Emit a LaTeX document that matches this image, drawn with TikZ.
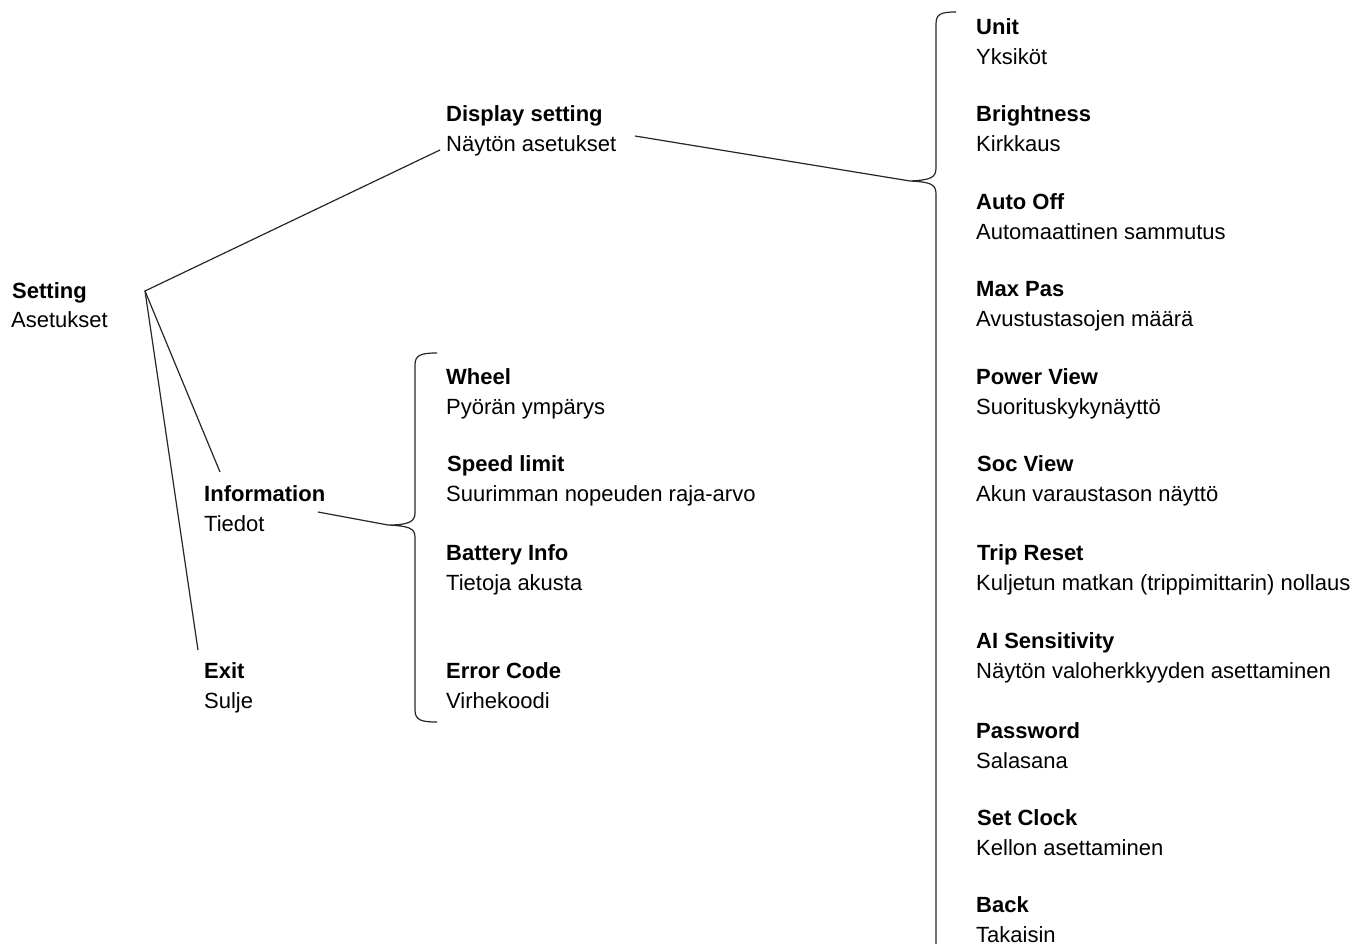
\documentclass[tikz,border=0pt]{standalone}
\usepackage{fontspec}
\setmainfont{Liberation Sans}
\begin{document}
\begin{tikzpicture}[x=1pt,y=-1pt,
  hd/.style={anchor=base west,inner sep=0pt,font=\fontsize{22}{26}\selectfont\bfseries},
  sb/.style={anchor=base west,inner sep=0pt,font=\fontsize{22}{26}\selectfont},
  conn/.style={draw=black!85,line width=1.2pt},
  brace/.style={draw=black!85,line width=1.2pt}]
\useasboundingbox (0,0) rectangle (1351,944);
% left column
\node[hd] (setting) at (12,298) {Setting};
\node[sb] (settingfi) at (11,327) {Asetukset};
\node[hd] (display) at (446,122) {Display setting};
\node[sb] (displayfi) at (446,152) {Näytön asetukset};
\node[hd] (info) at (204,501) {Information};
\node[sb] (infofi) at (204,531) {Tiedot};
\node[hd] (exit) at (204,678) {Exit};
\node[sb] (exitfi) at (204,708) {Sulje};
% information submenu
\node[hd] (wheel) at (446,384) {Wheel};
\node[sb] (wheelfi) at (446,414) {Pyörän ympärys};
\node[hd] (speed) at (447,471) {Speed limit};
\node[sb] (speedfi) at (446,501) {Suurimman nopeuden raja-arvo};
\node[hd] (battery) at (446,560) {Battery Info};
\node[sb] (batteryfi) at (446,590) {Tietoja akusta};
\node[hd] (error) at (446,678) {Error Code};
\node[sb] (errorfi) at (446,708) {Virhekoodi};
% display submenu
\node[hd] (unit) at (976,35) {Unit};
\node[sb] (unitfi) at (976,65) {Yksiköt};
\node[hd] (bright) at (976,122) {Brightness};
\node[sb] (brightfi) at (976,152) {Kirkkaus};
\node[hd] (autooff) at (976,209) {Auto Off};
\node[sb] (autooffi) at (976,239) {Automaattinen sammutus};
\node[hd] (maxpas) at (976,296) {Max Pas};
\node[sb] (maxpasfi) at (976,326) {Avustustasojen määrä};
\node[hd] (power) at (976,384) {Power View};
\node[sb] (powerfi) at (976,414) {Suorituskykynäyttö};
\node[hd] (soc) at (977,471) {Soc View};
\node[sb] (socfi) at (976,501) {Akun varaustason näyttö};
\node[hd] (trip) at (977,560) {Trip Reset};
\node[sb] (tripfi) at (976,590) {Kuljetun matkan (trippimittarin) nollaus};
\node[hd] (ai) at (976,648) {AI Sensitivity};
\node[sb] (aifi) at (976,678) {Näytön valoherkkyyden asettaminen};
\node[hd] (pw) at (976,738) {Password};
\node[sb] (pwfi) at (976,768) {Salasana};
\node[hd] (clock) at (977,825) {Set Clock};
\node[sb] (clockfi) at (976,855) {Kellon asettaminen};
\node[hd] (back) at (976,912) {Back};
\node[sb] (backfi) at (976,942) {Takaisin};
% connector points
\coordinate (apex) at (145,291);
\coordinate (dispin) at (440,150);
\coordinate (infoin) at (220,472);
\coordinate (exitin) at (198,650);
\coordinate (dispout) at (635,136);
\coordinate (infoout) at (318,512);
\coordinate (bigtip) at (910,181);
\coordinate (smalltip) at (388,525);
\draw[conn] (dispin) -- (apex) -- (infoin);
\draw[conn] (apex) -- (exitin);
\draw[conn] (dispout) -- (bigtip);
\draw[conn] (infoout) -- (smalltip);
% braces
\draw[brace] (956,12) .. controls (941,12) and (936,14) .. (936,24) -- (936,168)
  .. controls (936,178) and (930,180) .. (bigtip)
  .. controls (930,182) and (936,184) .. (936,194) -- (936,950);
\draw[brace] (437,353) .. controls (421,353) and (415,355) .. (415,365) -- (415,513)
  .. controls (415,522) and (408,525) .. (smalltip)
  .. controls (408,526) and (415,528) .. (415,537) -- (415,710)
  .. controls (415,720) and (421,722) .. (437,722);
\end{tikzpicture}
\end{document}
